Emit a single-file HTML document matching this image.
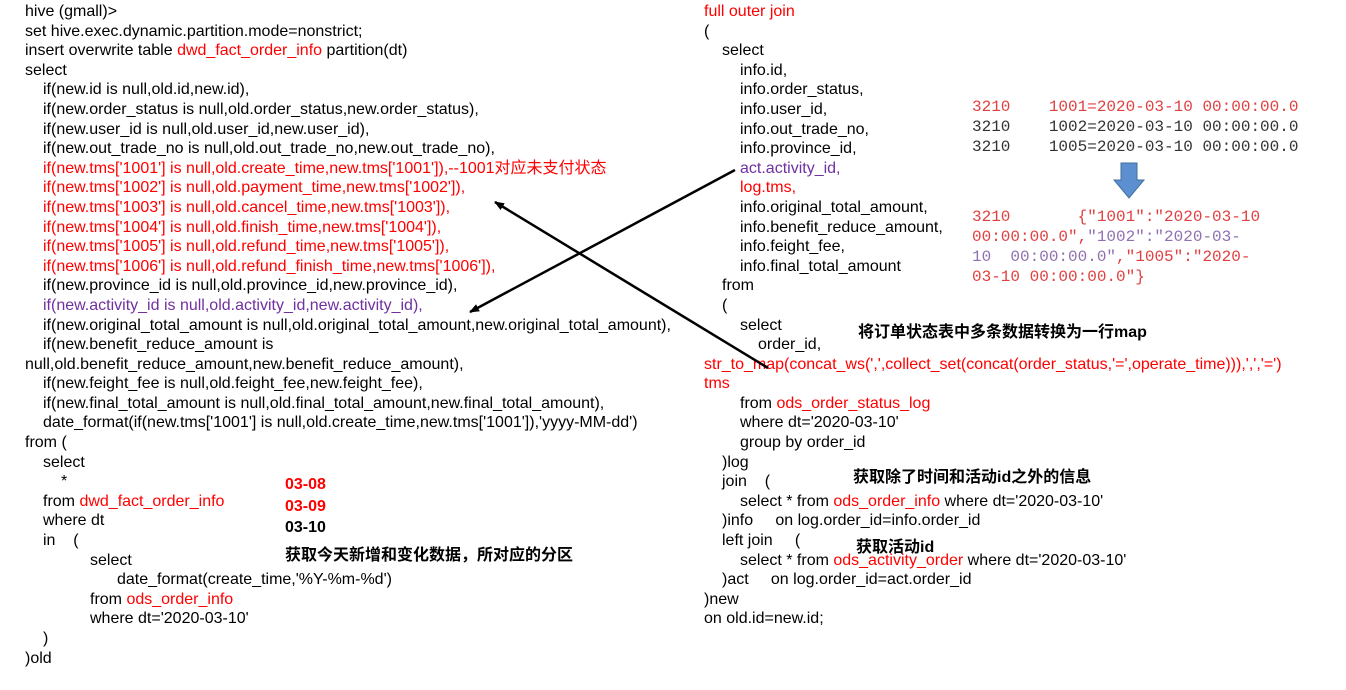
<!DOCTYPE html>
<html><head><meta charset="utf-8"><style>
body{margin:0;width:1346px;height:690px;background:#fff;position:relative;overflow:hidden;font-family:"Liberation Sans","Noto Sans CJK SC",sans-serif;}
.c{position:absolute;font-size:16px;line-height:19.6px;color:#000;}
.c div{height:19.6px;white-space:pre}
.r{color:#f00}.p{color:#7030a0}
.c .i1{padding-left:18px}.c .i2{padding-left:36px}.c .i3{padding-left:65px}.c .i4{padding-left:92px}
.m{position:absolute;font-family:"Liberation Mono",monospace;font-size:16px;line-height:20px;white-space:pre;color:#333;}
.b{position:absolute;font-weight:bold;font-size:16px;white-space:pre;}
</style></head><body>
<div class="c" style="left:25px;top:2px"><div>hive (gmall)></div><div>set hive.exec.dynamic.partition.mode=nonstrict;</div><div>insert overwrite table <span class="r">dwd_fact_order_info</span> partition(dt)</div><div>select</div><div class="i1">if(new.id is null,old.id,new.id),</div><div class="i1">if(new.order_status is null,old.order_status,new.order_status),</div><div class="i1">if(new.user_id is null,old.user_id,new.user_id),</div><div class="i1">if(new.out_trade_no is null,old.out_trade_no,new.out_trade_no),</div><div class="i1 r">if(new.tms['1001'] is null,old.create_time,new.tms['1001']),--1001对应未支付状态</div><div class="i1 r">if(new.tms['1002'] is null,old.payment_time,new.tms['1002']),</div><div class="i1 r">if(new.tms['1003'] is null,old.cancel_time,new.tms['1003']),</div><div class="i1 r">if(new.tms['1004'] is null,old.finish_time,new.tms['1004']),</div><div class="i1 r">if(new.tms['1005'] is null,old.refund_time,new.tms['1005']),</div><div class="i1 r">if(new.tms['1006'] is null,old.refund_finish_time,new.tms['1006']),</div><div class="i1">if(new.province_id is null,old.province_id,new.province_id),</div><div class="i1 p">if(new.activity_id is null,old.activity_id,new.activity_id),</div><div class="i1">if(new.original_total_amount is null,old.original_total_amount,new.original_total_amount),</div><div class="i1">if(new.benefit_reduce_amount is</div><div>null,old.benefit_reduce_amount,new.benefit_reduce_amount),</div><div class="i1">if(new.feight_fee is null,old.feight_fee,new.feight_fee),</div><div class="i1">if(new.final_total_amount is null,old.final_total_amount,new.final_total_amount),</div><div class="i1">date_format(if(new.tms['1001'] is null,old.create_time,new.tms['1001']),'yyyy-MM-dd')</div><div>from (</div><div class="i1">select</div><div class="i2">*</div><div class="i1">from <span class="r">dwd_fact_order_info</span></div><div class="i1">where dt</div><div class="i1">in    (</div><div class="i3">select</div><div class="i4">date_format(create_time,'%Y-%m-%d')</div><div class="i3">from <span class="r">ods_order_info</span></div><div class="i3">where dt='2020-03-10'</div><div class="i1">)</div><div>)old</div></div>
<div class="c" style="left:704px;top:2px"><div class="r">full outer join</div><div>(</div><div class="i1">select</div><div class="i2">info.id,</div><div class="i2">info.order_status,</div><div class="i2">info.user_id,</div><div class="i2">info.out_trade_no,</div><div class="i2">info.province_id,</div><div class="i2 p">act.activity_id,</div><div class="i2 r">log.tms,</div><div class="i2">info.original_total_amount,</div><div class="i2">info.benefit_reduce_amount,</div><div class="i2">info.feight_fee,</div><div class="i2">info.final_total_amount</div><div class="i1">from</div><div class="i1">(</div><div class="i2">select</div><div style="padding-left:54px">order_id,</div><div class="r">str_to_map(concat_ws(',',collect_set(concat(order_status,'=',operate_time))),',','=')</div><div class="r">tms</div><div class="i2">from <span class="r">ods_order_status_log</span></div><div class="i2">where dt='2020-03-10'</div><div class="i2">group by order_id</div><div class="i1">)log</div><div class="i1">join    (</div><div class="i2">select * from <span class="r">ods_order_info</span> where dt='2020-03-10'</div><div class="i1">)info     on log.order_id=info.order_id</div><div class="i1">left join     (</div><div class="i2">select * from <span class="r">ods_activity_order</span> where dt='2020-03-10'</div><div class="i1">)act     on log.order_id=act.order_id</div><div>)new</div><div>on old.id=new.id;</div></div>
<div class="m" style="left:972px;top:97px"><span style="color:#e04040">3210    1001=2020-03-10 00:00:00.0</span>
3210    1002=2020-03-10 00:00:00.0
3210    1005=2020-03-10 00:00:00.0</div>
<div class="m" style="left:972px;top:207px;color:#e04040">3210       {"1001":"2020-03-10
00:00:00.0",<span style="color:#9070b0">"1002":"2020-03-
10  00:00:00.0"</span>,"1005":"2020-
03-10 00:00:00.0"}</div>
<div class="b" style="left:285px;top:476px;color:#f00">03-08</div>
<div class="b" style="left:285px;top:498px;color:#f00">03-09</div>
<div class="b" style="left:285px;top:519px">03-10</div>
<div class="b" style="left:285px;top:541px">获取今天新增和变化数据，所对应的分区</div>
<div class="b" style="left:858px;top:318px">将订单状态表中多条数据转换为一行map</div>
<div class="b" style="left:853px;top:463px">获取除了时间和活动id之外的信息</div>
<div class="b" style="left:856px;top:533px">获取活动id</div>
<svg width="1346" height="690" style="position:absolute;left:0;top:0">
<defs><marker id="a" markerWidth="10" markerHeight="8" refX="9" refY="4" orient="auto" markerUnits="userSpaceOnUse"><path d="M0,0L10,4L0,8z" fill="#000"/></marker></defs>
<line x1="735" y1="170" x2="470" y2="312" stroke="#000" stroke-width="2.5" marker-end="url(#a)"/>
<line x1="768" y1="368" x2="495" y2="202" stroke="#000" stroke-width="2.5" marker-end="url(#a)"/>
<path d="M1121,163h16v17h7l-15,18l-15,-18h7z" fill="#5b8fd0" stroke="#41719c"/>
</svg>
</body></html>
